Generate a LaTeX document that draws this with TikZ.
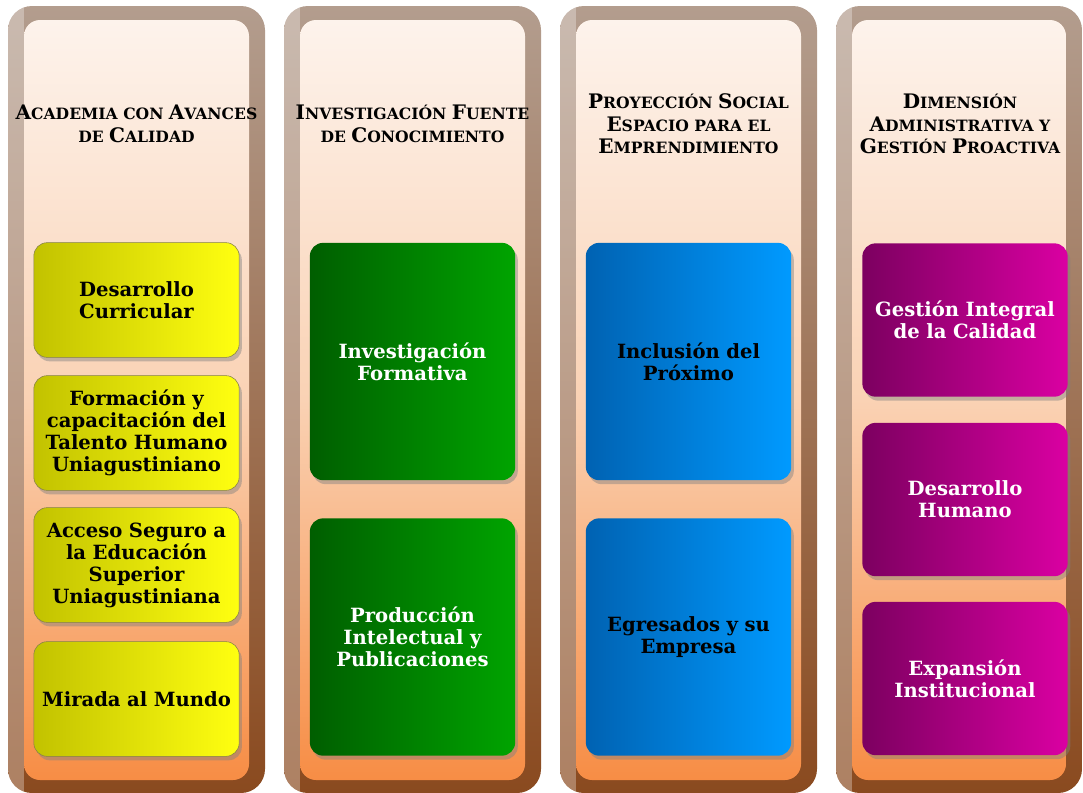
\documentclass[tikz,border=0pt]{standalone}
\usepackage{fontspec}
\setmainfont{DejaVu Serif}
\usetikzlibrary{shadows}

\definecolor{peachtop}{HTML}{FDF3EC}
\definecolor{peachmid}{HTML}{FAD2B4}
\definecolor{peachbot}{HTML}{F78D45}
\definecolor{rimtop}{HTML}{B39D8E}
\definecolor{rimbot}{HTML}{8A4A1F}
\definecolor{yelL}{HTML}{C2C200}
\definecolor{yelR}{HTML}{FFFF10}
\definecolor{grnL}{HTML}{005E00}
\definecolor{grnR}{HTML}{00A400}
\definecolor{bluL}{HTML}{0062B2}
\definecolor{bluR}{HTML}{009AFF}
\definecolor{magL}{HTML}{7C0060}
\definecolor{magR}{HTML}{DA00A2}

% big letter of the small caps headings
\newcommand{\Bc}[1]{{\fontsize{15}{17}\selectfont #1}}

\tikzset{
  pane/.style={rounded corners=12pt, top color=peachtop, bottom color=peachbot, middle color=peachmid},
  head/.style={align=center, font=\bfseries\fontsize{11.7}{17}\selectfont},
  tile/.style={rounded corners=10pt, inner xsep=2pt, text width=150pt, align=center,
    font=\bfseries\fontsize{14.7}{16.5}\selectfont,
    drop shadow={shadow xshift=2pt, shadow yshift=-3pt, opacity=.45}},
  ytile/.style={tile, left color=yelL, right color=yelR, draw=yellow!45!black, text=black},
  gtile/.style={tile, left color=grnL, right color=grnR, text=white},
  btile/.style={tile, left color=bluL, right color=bluR, text=black},
  mtile/.style={tile, left color=magL, right color=magR, text=white}
}

\begin{document}
\begin{tikzpicture}[x=0.75pt,y=-0.75pt]
  \useasboundingbox (0,0) rectangle (1083,793);

  % the four columns
  \foreach \x/\w in {8/257,284/257,560/257,836/246} {
    \begin{scope}
      \clip[rounded corners=18pt] (\x,6) rectangle ++(\w,787);
      \shade[top color=rimtop, bottom color=rimbot] (\x,6) rectangle ++(\w,787);
      \fill[white,opacity=.3] (\x,6) rectangle ++(16,787);
    \end{scope}
    \shade[pane] (\x+16,20) rectangle (\x+\w-16,780);
  }

  % headings
  \node[head] (acad) at (136.5,124) {\Bc{A}CADEMIA CON \Bc{A}VANCES\\DE \Bc{C}ALIDAD};
  \node[head] (inve) at (412.5,124) {\Bc{I}NVESTIGACIÓN \Bc{F}UENTE\\DE \Bc{C}ONOCIMIENTO};
  \node[head] (proy) at (688.5,124) {\Bc{P}ROYECCIÓN \Bc{S}OCIAL\\\Bc{E}SPACIO PARA EL\\\Bc{E}MPRENDIMIENTO};
  \node[head] (dime) at (960,124) {\Bc{D}IMENSIÓN\\\Bc{A}DMINISTRATIVA Y\\\Bc{G}ESTIÓN \Bc{P}ROACTIVA};

  % academia
  \node[ytile, minimum height=86pt] (curr) at (136.5,300) {Desarrollo\\Curricular};
  \node[ytile, minimum height=86pt] (tale) at (136.5,433) {Formación y\\capacitación del\\Talento Humano\\Uniagustiniano};
  \node[ytile, minimum height=86pt] (acce) at (136.5,565) {Acceso Seguro a\\la Educación\\Superior\\Uniagustiniana};
  \node[ytile, minimum height=86pt] (mund) at (136.5,699) {Mirada al Mundo};

  % investigacion
  \node[gtile, minimum height=178pt] (form) at (412.5,361.5) {Investigación\\Formativa};
  \node[gtile, minimum height=178pt] (prod) at (412.5,637) {Producción\\Intelectual y\\Publicaciones};

  % proyeccion social
  \node[btile, minimum height=178pt] (incl) at (688.5,361.5) {Inclusión del\\Próximo};
  \node[btile, minimum height=178pt] (egre) at (688.5,637) {Egresados y su\\Empresa};

  % dimension administrativa
  \node[mtile, minimum height=115pt] (gest) at (965,320) {Gestión Integral\\de la Calidad};
  \node[mtile, minimum height=115pt] (huma) at (965,499.5) {Desarrollo\\Humano};
  \node[mtile, minimum height=115pt] (expa) at (965,678.5) {Expansión\\Institucional};
\end{tikzpicture}
\end{document}
